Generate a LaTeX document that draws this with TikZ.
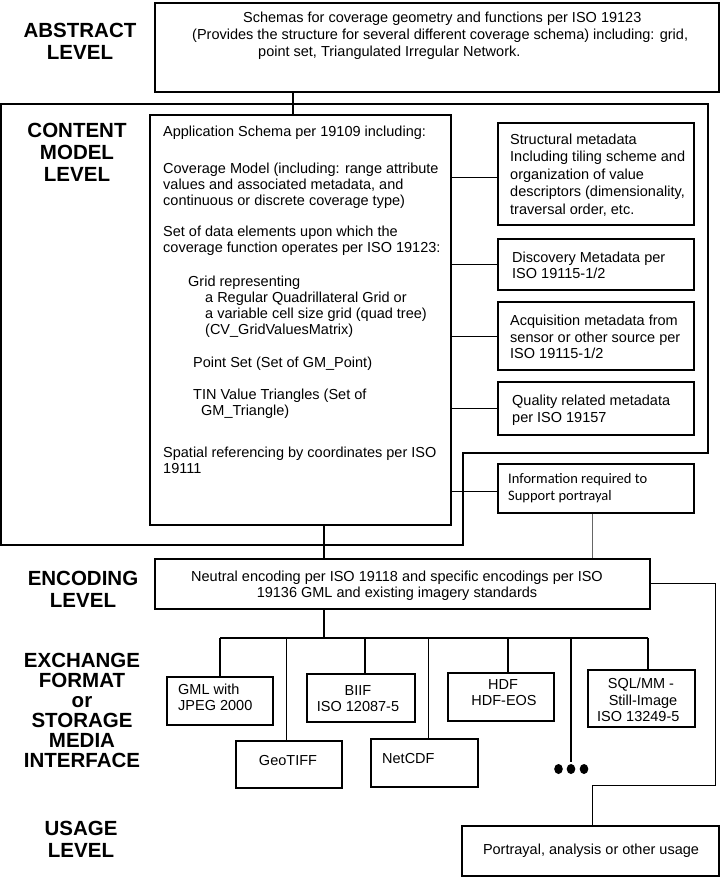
\documentclass[tikz,border=0pt]{standalone}
\usepackage{fontspec}
\setmainfont{Liberation Sans}
\newfontfamily\calibfont{Carlito}
\usetikzlibrary{fit}
\tikzset{
  bx/.style={draw, line width=1.8pt, inner sep=0pt},
  frame/.style={draw, line width=1.8pt},
  conn/.style={draw, line width=1.8pt},
  thinconn/.style={draw, line width=0.9pt},
  grayconn/.style={draw, line width=0.9pt, black!60},
  txt/.style={anchor=base west, inner sep=0pt, font=\fontsize{14.5}{16}\selectfont},
  ctxt/.style={txt, anchor=base},
  lbl/.style={align=center, inner sep=0pt, font=\fontsize{20.5}{22}\selectfont\bfseries},
}
\newcommand\TL[5][]{\node[txt,#1] (#2) at (#3,#4+5) {#5};}
\begin{document}
\begin{tikzpicture}[x=1pt,y=-1pt]
\useasboundingbox[fill=white] (0,0) rectangle (724,879);

% level labels
\node[lbl] (lAbs) at (80,41.5) {ABSTRACT\\LEVEL};
\node[lbl] (lCon) at (77,152) {CONTENT\\MODEL\\LEVEL};
\node[lbl] (lEnc) at (83,589) {ENCODING\\LEVEL};
\node[lbl, font=\fontsize{20.5}{20}\selectfont\bfseries] (lExc) at (82,710) {EXCHANGE\\FORMAT\\or\\STORAGE\\MEDIA\\INTERFACE};
\node[lbl] (lUse) at (81,839) {USAGE\\LEVEL};

% outer frame of content model level
\coordinate (f1) at (1,104);
\coordinate (f2) at (708,104);
\coordinate (f3) at (708,453);
\coordinate (f4) at (463,453);
\coordinate (f5) at (463,545);
\coordinate (f6) at (1,545);
\draw[frame] (f1) -- (f2) -- (f3) -- (f4) -- (f5) -- (f6) -- cycle;

% boxes
\node[bx, fit={(155,3)(719,92)}] (abs) {};
\node[bx, fit={(150,115)(451,525)}] (app) {};
\node[bx, fit={(498,123)(694,225)}] (str) {};
\node[bx, fit={(498,239)(694,290)}] (dis) {};
\node[bx, fit={(498,302)(694,370)}] (acq) {};
\node[bx, fit={(498,382)(694,435)}] (qua) {};
\node[bx, fit={(498,464)(694,513)}] (inf) {};
\node[bx, fit={(155,559)(650,609)}] (enc) {};
\node[bx, fit={(167,677)(273,725)}] (gml) {};
\node[bx, fit={(236,741)(342,788)}] (gtf) {};
\node[bx, fit={(307,674)(415,722)}] (bif) {};
\node[bx, fit={(371,739)(478,787)}] (ncd) {};
\node[bx, fit={(448,673)(554,721)}] (hdf) {};
\node[bx, fit={(588,670)(695,727)}] (sql) {};
\node[bx, fit={(462,826)(719,876)}] (use) {};

% abstract text
\TL{a1}{243}{17}{Schemas for coverage geometry and functions per ISO 19123}
\TL{a2}{192}{34}{(Provides the structure for several different coverage schema) including: grid,}
\TL{a3}{258}{51}{point set, Triangulated Irregular Network.}

% application schema text
\TL{p1}{163}{131}{Application Schema per 19109 including:}
\TL{p2}{163}{168}{Coverage Model (including: range attribute}
\TL{p3}{163}{184}{values and associated metadata, and}
\TL{p4}{163}{200}{continuous or discrete coverage type)}
\TL{p5}{163}{231}{Set of data elements upon which the}
\TL{p6}{163}{247}{coverage function operates per ISO 19123:}
\TL{p7}{188}{281}{Grid representing}
\TL{p8}{205}{297}{a Regular Quadrillateral Grid or}
\TL{p9}{205}{313}{a variable cell size grid (quad tree)}
\TL{p10}{205}{329}{(CV\_GridValuesMatrix)}
\TL{p11}{193}{362}{Point Set (Set of GM\_Point)}
\TL{p12}{193}{394}{TIN Value Triangles (Set of}
\TL{p13}{201}{410}{GM\_Triangle)}
\TL{p14}{163}{452}{Spatial referencing by coordinates per ISO}
\TL{p15}{163}{468}{19111}

% metadata texts
\TL{s1}{510}{139}{Structural metadata}
\TL{s2}{510}{156.5}{Including tiling scheme and}
\TL{s3}{510}{174}{organization of value}
\TL{s4}{510}{191.5}{descriptors (dimensionality,}
\TL{s5}{510}{209}{traversal order, etc.}
\TL{d1}{512}{257}{Discovery Metadata per}
\TL{d2}{512}{273}{ISO 19115-1/2}
\TL{q1}{510}{320}{Acquisition metadata from}
\TL{q2}{510}{337}{sensor or other source per}
\TL{q3}{510}{353}{ISO 19115-1/2}
\TL{r1}{512}{400}{Quality related metadata}
\TL{r2}{512}{417}{per ISO 19157}
\TL[font=\calibfont\fontsize{14.5}{16}\selectfont]{i1}{508}{478}{Information required to}
\TL[font=\calibfont\fontsize{14.5}{16}\selectfont]{i2}{508}{495}{Support portrayal}

% encoding text
\TL[ctxt]{e1}{397}{576}{Neutral encoding per ISO 19118 and specific encodings per ISO}
\TL[ctxt]{e2}{397}{592}{19136 GML and existing imagery standards}

% exchange format texts
\TL{g1}{178}{689}{GML with}
\TL{g2}{178}{705}{JPEG 2000}
\TL[ctxt]{t1}{288}{760}{GeoTIFF}
\TL[ctxt]{b1}{358}{690}{BIIF}
\TL[ctxt]{b2}{358}{706}{ISO 12087-5}
\TL{n1}{382}{758}{NetCDF}
\TL[ctxt]{h1}{503}{684}{HDF}
\TL[ctxt]{h2}{504}{700}{HDF-EOS}
\TL[ctxt]{m1}{641}{683}{SQL/MM -}
\TL[ctxt]{m2}{643}{700}{Still-Image}
\TL{m3}{597}{716}{ISO 13249-5}

% usage text
\TL[ctxt]{u1}{591}{849}{Portrayal, analysis or other usage}

% connectors: abstract -> application schema
\coordinate (xA) at (293,0);
\draw[conn] (abs.south -| xA) -- (app.north -| xA);

% application schema -> metadata boxes
\draw[thinconn] (app.east |- 0,177) -- (str.west |- 0,177);
\draw[thinconn] (app.east |- dis.west) -- (dis.west);
\draw[thinconn] (app.east |- acq.west) -- (acq.west);
\draw[thinconn] (app.east |- qua.west) -- (qua.west);
\draw[thinconn] (app.east |- 0,491) -- (inf.west |- 0,491);

% application schema -> encoding
\coordinate (xE) at (324,0);
\draw[conn] (app.south -| xE) -- (enc.north -| xE);

% info -> encoding
\coordinate (xI) at (592,0);
\draw[grayconn] (inf.south -| xI) -- (enc.north -| xI);

% encoding -> usage route
\coordinate (w1) at (715,583);
\coordinate (w2) at (715,785);
\coordinate (w3) at (592,785);
\draw[thinconn] (enc.east |- w1) -- (w1) -- (w2) -- (w3) -- (use.north -| w3);

% encoding -> bus
\coordinate (bus0) at (324,638);
\coordinate (busL) at (220,638);
\coordinate (busR) at (648,638);
\draw[conn] (enc.south -| bus0) -- (bus0);
\draw[conn] (busL) -- (busR);

% branches
\coordinate (bGML) at (220,638);
\coordinate (bGTF) at (286,638);
\coordinate (bBIF) at (365,638);
\coordinate (bNCD) at (428,638);
\coordinate (bHDF) at (508,638);
\coordinate (bDOT) at (571,638);
\coordinate (bSQL) at (648,638);
\coordinate (dotEnd) at (571,762);
\draw[conn] (bGML) -- (gml.north -| bGML);
\draw[thinconn] (bGTF) -- (gtf.north -| bGTF);
\draw[conn] (bBIF) -- (bif.north -| bBIF);
\draw[thinconn] (bNCD) -- (ncd.north -| bNCD);
\draw[conn] (bHDF) -- (hdf.north -| bHDF);
\draw[conn] (bDOT) -- (dotEnd);
\draw[conn] (bSQL) -- (sql.north -| bSQL);

% dots
\fill (558.5,769) ellipse [x radius=4.3pt, y radius=5pt];
\fill (571,769) ellipse [x radius=4.3pt, y radius=5pt];
\fill (584,769) ellipse [x radius=4.3pt, y radius=5pt];
\end{tikzpicture}
\end{document}
